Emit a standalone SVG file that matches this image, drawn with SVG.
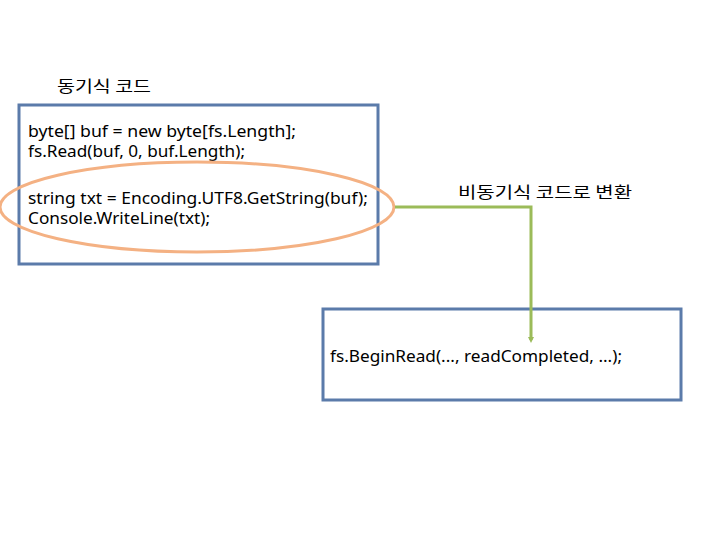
<svg xmlns="http://www.w3.org/2000/svg" width="720" height="540" viewBox="0 0 720 540">
<style>
.box{fill:#ffffff;stroke:#5b7baa;stroke-width:3}
.t{font-family:"Noto Sans","Noto Sans CJK KR",sans-serif;font-size:16px;fill:#000}
.k{font-family:"Noto Sans CJK KR",sans-serif;font-size:16px;fill:#000}
.conn{fill:none;stroke:#9bbb59;stroke-width:3}
</style>
<defs>
<marker id="arr" markerWidth="6" markerHeight="6" refX="3" refY="3" orient="auto" markerUnits="userSpaceOnUse">
<path d="M0,0 L6,3 L0,6 z" fill="#9bbb59"/>
</marker>
</defs>
<rect width="720" height="540" fill="#ffffff"/>
<text class="k" x="57" y="92" textLength="94" lengthAdjust="spacingAndGlyphs">동기식 코드</text>
<g id="sync">
<rect class="box" x="19" y="105" width="359" height="159"/>
<text class="t" x="28" y="137" textLength="268" lengthAdjust="spacingAndGlyphs">byte[] buf = new byte[fs.Length];</text>
<text class="t" x="28" y="157" textLength="217" lengthAdjust="spacingAndGlyphs">fs.Read(buf, 0, buf.Length);</text>
<text class="t" x="28" y="204" textLength="340" lengthAdjust="spacingAndGlyphs">string txt = Encoding.UTF8.GetString(buf);</text>
<text class="t" x="28" y="224" textLength="182" lengthAdjust="spacingAndGlyphs">Console.WriteLine(txt);</text>
</g>
<g id="highlight">
<ellipse cx="197" cy="207" rx="197" ry="45" fill="none" stroke="#f4b183" stroke-width="3"/>
</g>
<g id="async">
<rect class="box" x="323" y="309" width="358" height="91"/>
<text class="t" x="330" y="362" textLength="292" lengthAdjust="spacingAndGlyphs">fs.BeginRead(..., readCompleted, ...);</text>
</g>
<g id="connectors">
<polyline class="conn" points="395,207 531,207 531,340" marker-end="url(#arr)"/>
</g>
<text class="k" x="458" y="198" textLength="174" lengthAdjust="spacingAndGlyphs">비동기식 코드로 변환</text>
</svg>
